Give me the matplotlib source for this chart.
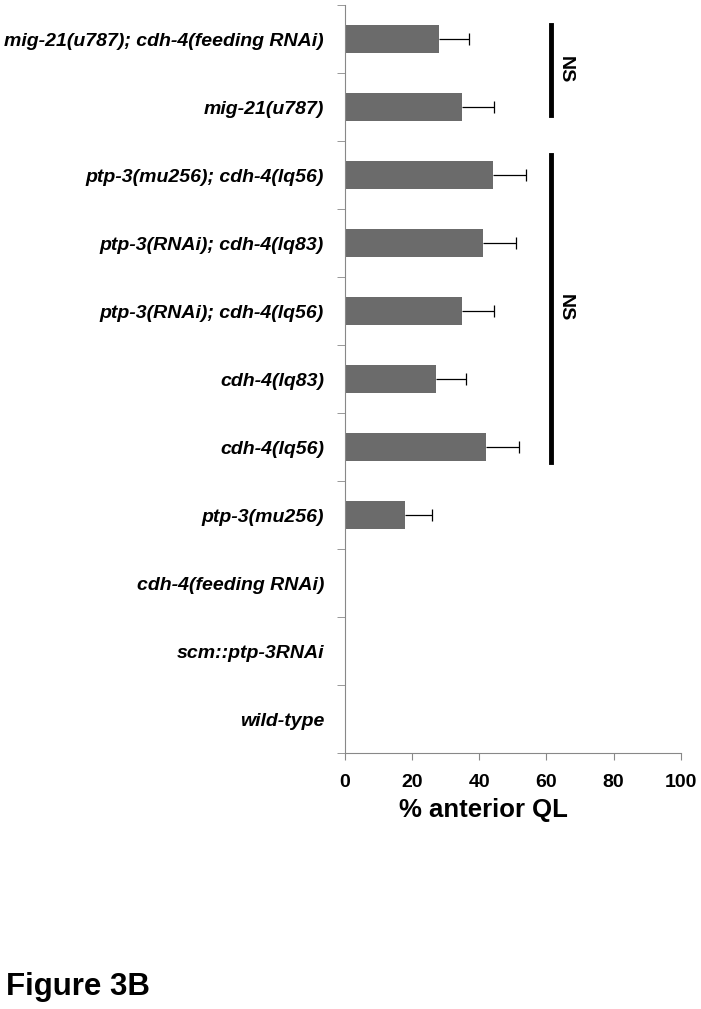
import numpy as np
import matplotlib
matplotlib.use("Agg")
import matplotlib.pyplot as plt

plt.rcParams['font.family'] = ['Liberation Sans', 'DejaVu Sans']

# data, top row first
strains = ["mig-21(u787); cdh-4(feeding RNAi)", "mig-21(u787)",
           "ptp-3(mu256); cdh-4(lq56)", "ptp-3(RNAi); cdh-4(lq83)",
           "ptp-3(RNAi); cdh-4(lq56)", "cdh-4(lq83)", "cdh-4(lq56)",
           "ptp-3(mu256)", "cdh-4(feeding RNAi)", "scm::ptp-3RNAi", "wild-type"]
pct_anterior = [28, 35, 44, 41, 35, 27, 42, 18, 0, 0, 0]
err = [9, 9.5, 10, 10, 9.5, 9, 10, 8, 0, 0, 0]

fig = plt.figure(figsize=(7.01, 10.09), dpi=100)
ax = fig.add_axes([0.492, 0.2537, 0.479, 0.7413])

n = len(strains)
ypos = np.arange(n)[::-1]
vals = np.array(pct_anterior)
errs = np.array(err)
has = vals > 0
ax.barh(ypos, vals, height=0.4, color='#6b6b6b')
# one-sided error bars, cap only on the outer end
ax.errorbar(vals[has], ypos[has], xerr=[np.zeros(has.sum()), errs[has]],
            fmt='none', ecolor='black', elinewidth=0.9, capsize=0)
ax.plot(vals[has] + errs[has], ypos[has], ls='none', marker='|', ms=8,
        mew=0.9, color='black')

ax.set_xlim(0, 100)
ax.set_ylim(-0.5, n - 0.5)
ax.set_xticks([0, 20, 40, 60, 80, 100])
ax.set_yticks(ypos)
ax.set_yticklabels(strains, fontsize=14, fontweight='bold', fontstyle='italic')
ax.set_yticks(np.arange(n + 1) - 0.5, minor=True)
ax.tick_params(axis='y', which='major', length=0, pad=15)
ax.tick_params(axis='y', which='minor', length=6, color='#888888', direction='out')
ax.tick_params(axis='x', length=5, color='#888888', pad=10, labelsize=14)
for t in ax.get_xticklabels():
    t.set_fontweight('bold')
ax.set_xlabel('% anterior QL', fontsize=18.5, fontweight='bold')
ax.xaxis.set_label_coords(0.414, -0.06)

for s in ['top', 'right']:
    ax.spines[s].set_visible(False)
for s in ['left', 'bottom']:
    ax.spines[s].set_color('#888888')

# significance brackets
ax.plot([61.5, 61.5], [10.2, 8.88], color='black', lw=3.5, clip_on=False)
ax.text(65.5, 9.55, 'NS', rotation=270, ha='center', va='center',
        fontsize=14, fontweight='bold')
ax.plot([61.5, 61.5], [8.3, 3.78], color='black', lw=3.5, clip_on=False)
ax.text(65.5, 6.05, 'NS', rotation=270, ha='center', va='center',
        fontsize=14, fontweight='bold')

fig.text(0.008, 0.014, 'Figure 3B', fontsize=22.5, fontweight='bold', va='baseline')

fig.savefig('out.png', dpi=100)
